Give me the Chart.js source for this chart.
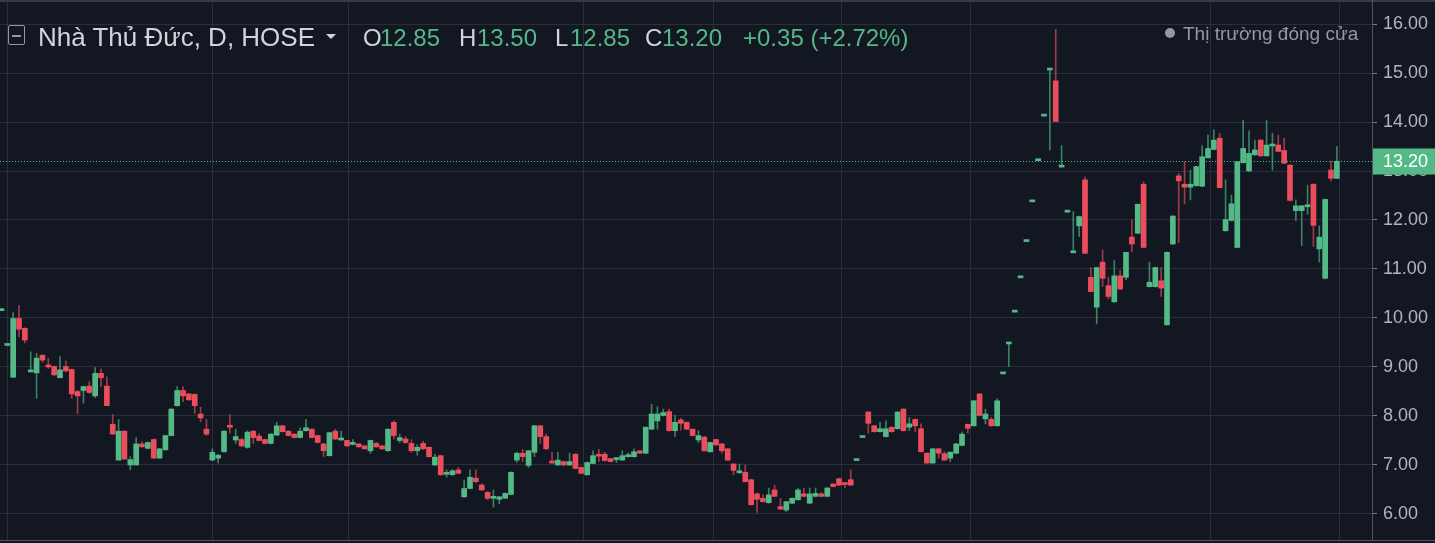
<!DOCTYPE html>
<html>
<head>
<meta charset="utf-8">
<script src="https://cdn.jsdelivr.net/npm/chart.js@4.4.1/dist/chart.umd.min.js"></script>
<style>
  html, body { margin: 0; padding: 0; background: #131722; overflow: hidden; }
  #wrap { position: relative; width: 1435px; height: 543px; font-family: 'Liberation Sans', Arial, sans-serif; }
  #wrap canvas { position: absolute; left: 0; top: 0; }
  .t { position: absolute; white-space: nowrap; line-height: 1; }
  .lbl { color: #d1d4dc; }
  .val { color: #53b987; }
</style>
</head>
<body>
<div id="wrap">
  <canvas id="c" width="1435" height="543"></canvas>
  <div class="t" style="left:8px;top:25px;width:15px;height:18px;border:1.5px solid #9598a1;border-radius:2px;"></div>
  <div class="t" style="left:12px;top:35px;width:9px;height:1.5px;background:#9598a1;"></div>
  <div class="t lbl" style="left:38px;top:24px;font-size:26px;">Nhà Thủ Đức, D, HOSE</div>
  <div class="t" style="left:326px;top:34px;width:0;height:0;border-left:5px solid transparent;border-right:5px solid transparent;border-top:5px solid #d1d4dc;"></div>
  <div id="ohlc"></div>
  <div class="t" style="left:1165px;top:28px;width:10px;height:10px;border-radius:50%;background:#9598a1;"></div>
  <div class="t" style="left:1183px;top:24px;font-size:19px;color:#9598a1;">Thị trường đóng cửa</div>
</div>
<script>
// daily candles, oldest first
const opens = [
  10.15, 9.44, 8.79, 9.99, 9.79, 8.90, 8.88, 9.24, 9.02, 9.01,
  8.78, 9.01, 8.95, 8.50, 8.52, 8.61, 8.41, 8.87, 8.61, 7.83,
  7.10, 7.69, 7.00, 7.00, 7.43, 7.34, 7.52, 7.14, 7.31, 7.60,
  8.21, 8.52, 8.45, 8.44, 8.04, 7.73, 7.10, 7.14, 7.27, 7.80,
  7.51, 7.52, 7.36, 7.69, 7.59, 7.52, 7.44, 7.61, 7.80, 7.69,
  7.63, 7.56, 7.70, 7.73, 7.60, 7.43, 7.19, 7.69, 7.51, 7.50,
  7.42, 7.43, 7.39, 7.29, 7.44, 7.39, 7.29, 7.87, 7.50, 7.53,
  7.44, 7.29, 7.44, 7.36, 7.00, 7.19, 6.81, 6.80, 6.90, 6.35,
  6.52, 6.73, 6.59, 6.44, 6.32, 6.30, 6.32, 6.40, 7.10, 7.24,
  6.99, 7.26, 7.80, 7.58, 7.05, 7.00, 7.07, 7.00, 7.22, 6.95,
  6.80, 7.03, 7.20, 7.22, 7.13, 7.11, 7.10, 7.17, 7.17, 7.29,
  7.24, 7.73, 7.90, 8.01, 8.09, 7.70, 7.92, 7.87, 7.73, 7.51,
  7.57, 7.27, 7.52, 7.43, 7.33, 7.02, 6.84, 6.85, 6.70, 6.41,
  6.32, 6.23, 6.49, 6.15, 6.08, 6.22, 6.29, 6.41, 6.22, 6.36,
  6.41, 6.36, 6.61, 6.72, 6.62, 6.70, 7.09, 7.56, 8.08, 7.80,
  7.68, 7.58, 7.77, 7.74, 8.14, 7.77, 7.93, 7.74, 7.24, 7.04,
  7.33, 7.23, 7.14, 7.24, 7.40, 7.83, 7.80, 8.45, 7.94, 7.93,
  7.80, 8.86, 9.47, 10.12, 10.82, 11.56, 12.37, 13.21, 14.12, 15.06,
  14.84, 13.08, 12.16, 11.33, 11.88, 12.82, 10.83, 10.22, 11.14, 10.66,
  10.33, 10.86, 10.83, 11.65, 11.73, 12.73, 10.64, 10.64, 10.76, 9.86,
  11.51, 12.90, 12.73, 12.67, 12.70, 12.69, 13.27, 13.44, 13.67, 11.78,
  11.99, 11.44, 13.17, 13.00, 13.33, 13.63, 13.31, 13.51, 13.53, 13.42,
  13.12, 12.19, 12.19, 12.27, 12.73, 11.41, 10.81, 13.02, 12.85
];
const highs = [
  10.15, 9.44, 10.11, 10.26, 9.80, 9.31, 9.28, 9.25, 9.18, 9.02,
  9.21, 9.12, 8.96, 8.52, 8.60, 8.70, 8.99, 8.96, 8.80, 8.03,
  7.93, 7.70, 7.17, 7.56, 7.48, 7.47, 7.53, 7.34, 7.61, 8.15,
  8.60, 8.60, 8.46, 8.45, 8.18, 7.93, 7.33, 7.21, 7.70, 8.03,
  7.73, 7.55, 7.70, 7.70, 7.64, 7.53, 7.64, 7.87, 7.81, 7.70,
  7.64, 7.76, 7.93, 7.74, 7.61, 7.44, 7.67, 7.73, 7.69, 7.51,
  7.52, 7.44, 7.40, 7.51, 7.46, 7.40, 7.74, 7.90, 7.63, 7.58,
  7.52, 7.41, 7.49, 7.37, 7.22, 7.20, 6.90, 6.91, 6.95, 6.69,
  6.90, 6.90, 6.62, 6.46, 6.49, 6.36, 6.43, 6.86, 7.26, 7.32,
  7.30, 7.81, 7.81, 7.63, 7.26, 7.26, 7.08, 7.24, 7.23, 6.96,
  7.06, 7.29, 7.32, 7.26, 7.14, 7.13, 7.29, 7.25, 7.33, 7.30,
  7.78, 8.24, 8.19, 8.14, 8.14, 8.01, 7.95, 7.88, 7.74, 7.70,
  7.58, 7.47, 7.53, 7.44, 7.34, 7.03, 7.02, 7.00, 6.71, 6.43,
  6.39, 6.53, 6.59, 6.32, 6.26, 6.33, 6.53, 6.53, 6.53, 6.53,
  6.44, 6.54, 6.62, 6.73, 6.63, 6.90, 7.09, 7.56, 8.09, 7.81,
  7.87, 7.90, 7.78, 8.09, 8.15, 7.97, 7.94, 7.84, 7.25, 7.34,
  7.34, 7.27, 7.27, 7.44, 7.67, 7.84, 8.32, 8.46, 8.14, 7.97,
  8.35, 8.86, 9.48, 10.12, 10.82, 11.56, 12.37, 13.21, 14.12, 15.07,
  15.89, 13.52, 12.16, 12.17, 12.08, 12.88, 11.03, 11.03, 11.39, 10.83,
  11.17, 10.97, 11.34, 12.00, 12.33, 12.78, 11.14, 11.04, 11.03, 11.35,
  12.09, 12.95, 13.19, 13.02, 13.10, 13.52, 13.74, 13.84, 13.77, 12.82,
  12.51, 13.19, 14.04, 13.82, 13.63, 13.64, 14.03, 13.77, 13.73, 13.67,
  13.13, 12.41, 12.30, 12.71, 12.74, 11.88, 12.43, 13.20, 13.50
];
const lows = [
  10.15, 9.44, 8.79, 9.62, 9.49, 8.90, 8.36, 9.10, 8.97, 8.82,
  8.78, 8.90, 8.36, 8.05, 8.26, 8.46, 8.38, 8.60, 8.21, 7.63,
  7.10, 7.12, 6.90, 7.00, 7.36, 7.33, 7.14, 7.13, 7.30, 7.59,
  8.20, 8.29, 8.32, 8.05, 7.88, 7.60, 7.09, 7.04, 7.26, 7.65,
  7.44, 7.37, 7.34, 7.44, 7.49, 7.43, 7.43, 7.60, 7.67, 7.59,
  7.55, 7.55, 7.69, 7.55, 7.45, 7.17, 7.18, 7.52, 7.50, 7.38,
  7.41, 7.36, 7.32, 7.24, 7.36, 7.32, 7.28, 7.53, 7.46, 7.44,
  7.26, 7.20, 7.32, 7.16, 6.99, 6.79, 6.75, 6.79, 6.82, 6.34,
  6.51, 6.64, 6.48, 6.29, 6.14, 6.21, 6.31, 6.39, 7.05, 7.07,
  6.95, 7.17, 7.44, 7.32, 7.03, 6.99, 6.99, 6.99, 6.92, 6.82,
  6.79, 7.02, 7.07, 7.08, 7.06, 7.05, 7.09, 7.16, 7.16, 7.23,
  7.23, 7.72, 7.73, 8.00, 7.69, 7.58, 7.71, 7.72, 7.59, 7.46,
  7.28, 7.26, 7.40, 7.24, 7.09, 6.80, 6.83, 6.65, 6.18, 6.03,
  6.24, 6.22, 6.35, 6.09, 6.05, 6.21, 6.28, 6.35, 6.21, 6.35,
  6.35, 6.35, 6.55, 6.58, 6.53, 6.58, 7.09, 7.56, 7.65, 7.67,
  7.67, 7.57, 7.67, 7.73, 7.69, 7.70, 7.68, 7.26, 7.03, 7.03,
  7.14, 7.09, 7.07, 7.23, 7.39, 7.65, 7.79, 8.00, 7.84, 7.79,
  7.79, 8.86, 9.01, 10.12, 10.82, 11.56, 12.37, 13.21, 14.12, 13.43,
  14.01, 13.08, 12.16, 11.33, 11.66, 11.32, 10.54, 9.88, 10.64, 10.39,
  10.32, 10.58, 10.78, 11.35, 11.72, 11.44, 10.63, 10.63, 10.44, 9.86,
  11.50, 11.54, 12.33, 12.41, 12.69, 12.68, 13.26, 13.43, 12.66, 11.77,
  11.98, 11.43, 13.16, 12.99, 13.32, 13.30, 13.30, 13.02, 13.39, 13.15,
  12.39, 11.99, 11.48, 12.12, 11.46, 11.14, 10.80, 12.80, 12.85
];
const closes = [
  10.15, 9.44, 9.99, 9.77, 9.55, 8.91, 9.18, 9.14, 9.00, 8.84,
  8.94, 8.92, 8.45, 8.41, 8.60, 8.48, 8.87, 8.78, 8.21, 7.63,
  7.69, 7.12, 7.11, 7.43, 7.37, 7.46, 7.14, 7.33, 7.60, 8.14,
  8.52, 8.41, 8.33, 8.21, 7.96, 7.63, 7.26, 7.20, 7.69, 7.77,
  7.58, 7.39, 7.67, 7.56, 7.50, 7.44, 7.63, 7.80, 7.68, 7.60,
  7.56, 7.69, 7.76, 7.56, 7.46, 7.29, 7.66, 7.53, 7.52, 7.39,
  7.43, 7.37, 7.33, 7.50, 7.37, 7.33, 7.73, 7.60, 7.56, 7.46,
  7.29, 7.36, 7.33, 7.17, 7.16, 6.80, 6.82, 6.88, 6.83, 6.52,
  6.75, 6.66, 6.49, 6.32, 6.33, 6.35, 6.42, 6.85, 7.24, 7.17,
  7.29, 7.80, 7.58, 7.33, 7.04, 7.10, 7.00, 7.07, 6.93, 6.83,
  7.05, 7.19, 7.18, 7.09, 7.07, 7.12, 7.19, 7.20, 7.27, 7.24,
  7.77, 8.04, 8.04, 8.07, 7.70, 7.87, 7.85, 7.73, 7.60, 7.60,
  7.29, 7.46, 7.41, 7.29, 7.10, 6.89, 6.86, 6.66, 6.19, 6.30,
  6.25, 6.39, 6.36, 6.10, 6.25, 6.32, 6.49, 6.36, 6.41, 6.42,
  6.36, 6.53, 6.56, 6.59, 6.60, 6.59, 7.09, 7.56, 7.85, 7.68,
  7.74, 7.74, 7.68, 8.08, 7.70, 7.84, 7.80, 7.27, 7.04, 7.33,
  7.24, 7.10, 7.26, 7.43, 7.63, 7.75, 8.31, 8.01, 8.04, 7.80,
  8.31, 8.86, 9.48, 10.12, 10.82, 11.56, 12.37, 13.21, 14.12, 15.07,
  14.01, 13.09, 12.16, 11.34, 12.07, 11.32, 10.54, 11.03, 10.81, 10.44,
  10.86, 10.59, 11.34, 11.51, 12.32, 11.44, 10.73, 11.03, 10.61, 11.34,
  12.08, 12.80, 12.67, 12.73, 13.09, 13.29, 13.46, 13.63, 12.66, 12.01,
  12.33, 13.19, 13.46, 13.36, 13.43, 13.31, 13.53, 13.52, 13.40, 13.16,
  12.40, 12.29, 12.29, 12.28, 11.89, 11.65, 12.42, 12.85, 13.20
];
// candle positions of the vertical (period) grid lines
const gridDays = [1, 36, 59.3, 99.3, 121.5, 143.5, 165.5, 206.5, 228.5];

const UP = '#53b987';
const DOWN = '#eb4d5c';
const UP_WICK = 'rgba(83,185,135,0.65)';
const DOWN_WICK = 'rgba(235,77,92,0.65)';
const GRID = '#2a2e39';

const last = closes.length - 1;
const prevClose = closes[last - 1];
const chg = closes[last] - prevClose;

// legend line: O H L C change
const ohlcParts = [
  ['O', 363], [opens[last].toFixed(2), 380],
  ['H', 459], [highs[last].toFixed(2), 477],
  ['L', 555], [lows[last].toFixed(2), 570],
  ['C', 645], [closes[last].toFixed(2), 662],
  [`+${chg.toFixed(2)} (+${(chg / prevClose * 100).toFixed(2)}%)`, 743],
];
document.getElementById('ohlc').innerHTML = ohlcParts.map(([txt, x], k) =>
  `<div class="t ${k % 2 === 0 && k < 8 ? 'lbl' : 'val'}" style="left:${x}px;top:26px;font-size:24px;">${txt}</div>`
).join('');

const isUp = (i) => closes[i] >= opens[i];
const bodies = opens.map((o, i) => ({ x: i, y: [o, closes[i]] }));
const wicks = opens.map((o, i) => ({ x: i, y: [lows[i], highs[i]] }));

const chrome = {
  id: 'chrome',
  beforeDraw(chart) {
    const c = chart.ctx;
    c.save();
    c.fillStyle = '#131722';
    c.fillRect(0, 0, chart.width, chart.height);
    c.restore();
  },
  afterDraw(chart) {
    const c = chart.ctx;
    const a = chart.chartArea;
    const y = chart.scales.y;
    const py = Math.round(y.getPixelForValue(closes[last])) + 0.5;
    c.save();
    // frame lines
    c.strokeStyle = '#363a45';
    c.lineWidth = 2;
    c.beginPath(); c.moveTo(0, 1); c.lineTo(chart.width, 1); c.stroke();
    c.strokeStyle = '#50535e';
    c.lineWidth = 1;
    c.beginPath(); c.moveTo(0, a.bottom + 0.5); c.lineTo(chart.width, a.bottom + 0.5); c.stroke();
    c.beginPath(); c.moveTo(a.right + 0.5, 0); c.lineTo(a.right + 0.5, a.bottom); c.stroke();
    // last price line
    c.strokeStyle = UP;
    c.setLineDash([1, 2]);
    c.beginPath(); c.moveTo(a.left, py); c.lineTo(a.right, py); c.stroke();
    c.setLineDash([]);
    // last price label
    c.fillStyle = UP;
    c.fillRect(a.right + 1, py - 13, chart.width - a.right, 26);
    c.fillStyle = '#ffffff';
    c.font = '18px "Liberation Sans", Arial, sans-serif';
    c.textBaseline = 'middle';
    c.fillText(closes[last].toFixed(2), a.right + 11, py + 1);
    c.restore();
  },
};

new Chart(document.getElementById('c'), {
  type: 'bar',
  data: {
    datasets: [
      {
        data: bodies,
        backgroundColor: bodies.map((_, i) => isUp(i) ? UP : DOWN),
        barThickness: 5,
        minBarLength: 2,
        grouped: false,
        order: 0,
      },
      {
        data: wicks,
        backgroundColor: wicks.map((_, i) => isUp(i) ? UP_WICK : DOWN_WICK),
        barThickness: 1,
        grouped: false,
        order: 1,
      },
    ],
  },
  options: {
    responsive: false,
    animation: false,
    devicePixelRatio: 1,
    layout: { padding: 0 },
    plugins: { legend: { display: false }, tooltip: { enabled: false } },
    scales: {
      x: {
        type: 'linear',
        offset: false,
        min: -0.246,
        max: 234.0,
        afterBuildTicks: (s) => { s.ticks = gridDays.map((v) => ({ value: v })); },
        afterFit: (s) => { s.height = 3; s.paddingLeft = 0; s.paddingRight = 0; },
        ticks: { display: false },
        grid: { color: GRID, drawTicks: false, offset: false },
        border: { display: false },
      },
      y: {
        position: 'right',
        min: 5.469,
        max: 16.49,
        afterFit: (s) => { s.width = 63; s.paddingTop = 0; s.paddingBottom = 0; },
        ticks: {
          stepSize: 1,
          includeBounds: false,
          color: '#b2b5be',
          padding: 6,
          font: { family: '"Liberation Sans", Arial, sans-serif', size: 18 },
          callback: (v) => v.toFixed(2),
        },
        grid: { color: GRID, tickLength: 5, tickColor: '#787b86' },
        border: { display: false },
      },
    },
  },
  plugins: [chrome],
});
</script>
</body>
</html>
